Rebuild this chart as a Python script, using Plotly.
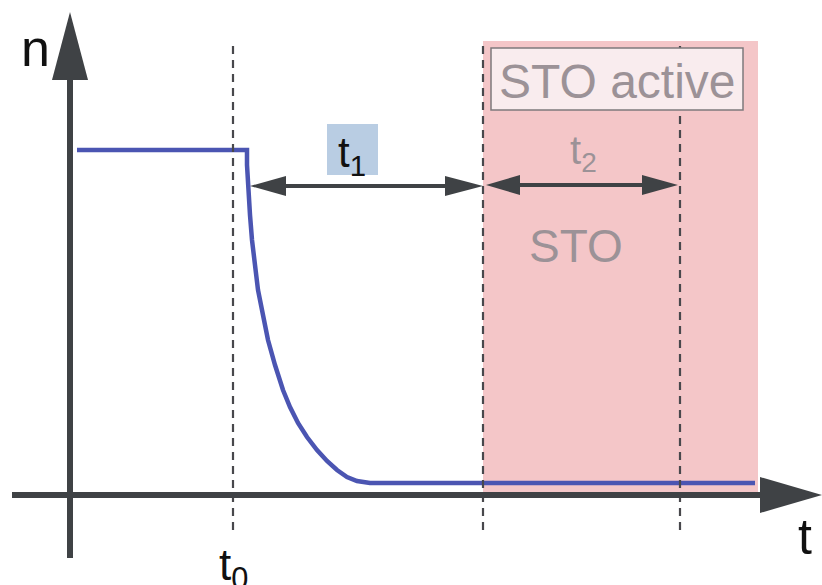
import plotly.graph_objects as go

# Speed curve n(t): constant, then decay after t0 (diagram units, origin at axis cross)
curve_t = [7, 177, 177, 178, 180, 182, 185, 188, 193, 198, 205, 213, 220, 228, 237, 247, 257, 267, 277, 287, 300, 315, 685]
curve_n = [345, 345, 330, 305, 280, 255, 230, 205, 180, 155, 130, 105, 88, 72, 58, 45, 34, 25, 18, 14, 12, 12, 12]

# Marked instants
t0 = 163
t_sto = 413
t_end2 = 610
t_zone_end = 688

marker_labels = ["t<sub>0</sub>", "t<sub>1</sub>", "t<sub>2</sub>"]

AXIS = "#3f4245"
BLUE = "#4b55b2"
PINK = "#f4c6c8"
GREY_TXT = "#9c9297"
FONT = "Liberation Sans, Arial, sans-serif"

fig = go.Figure()

# STO zone
fig.add_shape(type="rect", x0=t_sto, x1=t_zone_end, y0=0, y1=454,
              fillcolor=PINK, line_width=0, layer="below")

# dashed markers
for tx in [t0, t_sto, t_end2]:
    fig.add_shape(type="line", x0=tx, x1=tx, y0=-35, y1=455,
                  line=dict(color="#48484c", width=2.2, dash="8px,6px"), layer="above")

fig.add_trace(go.Scatter(
    x=curve_t, y=curve_n, mode="lines",
    line=dict(color=BLUE, width=4.5),
    hoverinfo="skip", showlegend=False
))


def arrow_head(tip_x, tip_y, dx, half, color=AXIS, horizontal=True):
    # triangle pointing to (tip_x, tip_y); dx is signed length back towards base
    if horizontal:
        bx = tip_x - dx
        path = f"M {tip_x},{tip_y} L {bx},{tip_y + half} L {bx},{tip_y - half} Z"
    else:
        by = tip_y - dx
        path = f"M {tip_x},{tip_y} L {tip_x - half},{by} L {tip_x + half},{by} Z"
    fig.add_shape(type="path", path=path, fillcolor=color, line_width=0, layer="above")


# axes
fig.add_shape(type="line", x0=0, x1=0, y0=-63, y1=420, line=dict(color=AXIS, width=6), layer="above")
arrow_head(0, 483, 68, 18, horizontal=False)
fig.add_shape(type="line", x0=-58, x1=695, y0=0, y1=0, line=dict(color=AXIS, width=6), layer="above")
arrow_head(752, 0, 62, 18)

# t1 span arrow
y1 = 309
fig.add_shape(type="line", x0=195, x1=t_sto - 20, y0=y1, y1=y1, line=dict(color=AXIS, width=4), layer="above")
arrow_head(180, y1, -36, 10)
arrow_head(t_sto, y1, 38, 10)

# t2 span arrow
y2 = 310
fig.add_shape(type="line", x0=t_sto + 20, x1=t_end2 - 20, y0=y2, y1=y2, line=dict(color=AXIS, width=4), layer="above")
arrow_head(t_sto + 3, y2, -34, 10)
arrow_head(t_end2 - 2, y2, 36, 10)

# t1 label box
fig.add_shape(type="rect", x0=257, x1=308, y0=320, y1=371,
              fillcolor="#b9cde3", line_width=0, layer="below")
# STO active box
fig.add_shape(type="rect", x0=421, x1=673, y0=385, y1=447,
              fillcolor="#f9ecee", line=dict(color="#7d7a7c", width=1.5), layer="above")

ann = [
    dict(x=-35, y=447, text="n", size=52, color="#111111"),
    dict(x=735, y=-42, text="t", size=50, color="#111111"),
    dict(x=t0, y=-73, text=marker_labels[0], size=44, color="#111111"),
    dict(x=282, y=340, text=marker_labels[1], size=42, color="#111111"),
    dict(x=513, y=342, text=marker_labels[2], size=40, color=GREY_TXT),
    dict(x=547, y=414, text="STO active", size=48, color=GREY_TXT),
    dict(x=506, y=249, text="STO", size=46, color=GREY_TXT),
]
for a in ann:
    fig.add_annotation(x=a["x"], y=a["y"], text=a["text"], showarrow=False,
                       xanchor="center", yanchor="middle",
                       font=dict(family=FONT, size=a["size"], color=a["color"]))

fig.update_xaxes(range=[-70, 752], visible=False, fixedrange=True)
fig.update_yaxes(range=[-90, 495], visible=False, fixedrange=True)
fig.update_layout(
    width=822, height=585,
    margin=dict(l=0, r=0, t=0, b=0),
    plot_bgcolor="white", paper_bgcolor="white",
    showlegend=False
)

fig.write_html("out.html", config={"displayModeBar": False},
               post_script="document.body.style.margin='0';")
